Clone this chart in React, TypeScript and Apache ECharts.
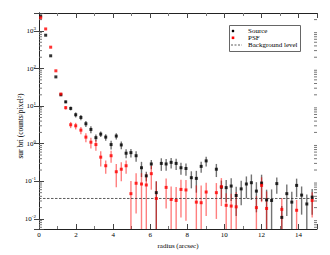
import React, { useEffect, useRef } from "react";
import * as echarts from "echarts";

const FONT = "Liberation Serif, 'Times New Roman', serif";

// Source (black) surface brightness profile
const srcRadius = [0.09, 0.36, 0.63, 0.91, 1.18, 1.44, 1.71, 1.98, 2.26, 2.53, 2.8, 3.07, 3.33, 3.6, 3.89, 4.17, 4.44, 4.7, 4.96, 5.24, 5.53, 5.79, 6.06, 6.33, 6.6, 6.86, 7.13, 7.4, 7.66, 7.93, 8.22, 8.49, 8.75, 9.02, 9.57, 9.84, 10.1, 10.37, 10.64, 10.91, 11.19, 11.46, 11.73, 12.01, 12.28, 12.55, 12.83, 13.1, 13.37, 13.64, 13.9, 14.17, 14.45, 14.74];
const srcValue = [2500, 770, 218, 60, 20, 13, 8.7, 5.9, 5.0, 3.4, 2.4, 1.45, 1.8, 1.5, 0.95, 1.6, 0.93, 0.56, 0.58, 0.48, 0.23, 0.14, 0.29, 0.05, 0.3, 0.29, 0.32, 0.3, 0.23, 0.22, 0.125, 0.12, 0.25, 0.35, 0.21, 0.07, 0.068, 0.075, 0.042, 0.063, 0.085, 0.092, 0.055, 0.09, 0.032, 0.031, 0.087, 0.011, 0.047, 0.028, 0.078, 0.043, 0.025, 0.038];
const srcError = [0, 0, 0, 0, 1, 1, 1, 0.9, 0.8, 0.6, 0.5, 0.3, 0.3, 0.3, 0.25, 0.3, 0.22, 0.15, 0.15, 0.15, 0.1, 0.04, 0.08, 0.05, 0.11, 0.1, 0.1, 0.1, 0.08, 0.08, 0.06, 0.07, 0.08, 0.1, 0.08, 0.035, 0.04, 0.045, 0.03, 0.04, 0.05, 0.06, 0.04, 0.06, 0.028, 0.03, 0.04, 0.011, 0.035, 0.025, 0.04, 0.03, 0.02, 0.025];

// PSF (red) profile
const psfRadius = [0.09, 0.36, 0.63, 0.91, 1.18, 1.44, 1.71, 1.98, 2.26, 2.53, 2.8, 3.07, 3.33, 3.6, 3.89, 4.17, 4.44, 4.7, 4.96, 5.24, 5.53, 5.79, 6.06, 6.33, 6.86, 7.13, 7.4, 7.66, 7.93, 8.49, 8.75, 9.02, 9.57, 9.84, 10.1, 10.37, 10.64, 11.73, 12.01, 12.28, 13.1, 13.9, 14.74];
const psfValue = [2250, 1130, 370, 87, 21, 9.1, 3.2, 3.0, 2.3, 1.5, 1.1, 0.95, 0.44, 0.26, 0.48, 0.18, 0.21, 0.26, 0.047, 0.089, 0.085, 0.08, 0.16, 0.035, 0.069, 0.033, 0.031, 0.061, 0.059, 0.028, 0.027, 0.052, 0.05, 0.072, 0.023, 0.022, 0.021, 0.02, 0.078, 0.019, 0.018, 0.017, 0.031];
const psfError = [0, 0, 0, 0, 1, 1, 0.6, 0.6, 0.5, 0.4, 0.35, 0.3, 0.19, 0.1, 0.17, 0.11, 0.11, 0.1, 0.055, 0.075, 0.08, 0.08, 0.1, 0.065, 0.05, 0.04, 0.04, 0.05, 0.05, 0.05, 0.05, 0.04, 0.04, 0.05, 0.025, 0.025, 0.03, 0.02, 0.05, 0.035, 0.018, 0.015, 0.02];

const backgroundLevel = 0.035;

const xMin = 0;
const xMax = 15;
const yMin = 0.0054;
const yMax = 3000;

const legendNames = ["Source", "PSF", "Background level"];
const xTitle = "radius (arcsec)";
const yTitle = "sur bri (counts/pixel²)";

// minor tick positions of the log axis (2..9 in each decade)
const yMinorTicks: number[] = [];
for (let d = -3; d <= 3; d++) {
  for (let k = 2; k <= 9; k++) {
    const v = k * Math.pow(10, d);
    if (v > yMin && v < yMax) yMinorTicks.push(v);
  }
}

const errRender = (color: string) => (params: any, api: any) => {
  const x = api.value(0);
  const v = api.value(1);
  const e = api.value(2);
  if (!e) return null;
  const cs = params.coordSys;
  const top = cs.y;
  const bottom = cs.y + cs.height;
  const pHi = api.coord([x, v + e]);
  let yLo = bottom;
  if (v - e > 0) yLo = Math.min(api.coord([x, v - e])[1], bottom);
  const yHi = Math.max(pHi[1], top);
  return {
    type: "line",
    shape: { x1: pHi[0], y1: yHi, x2: pHi[0], y2: yLo },
    style: { stroke: color, lineWidth: 1.4 },
  };
};

const labelFmt = (v: number) => {
  const l = Math.log10(v);
  const e = Math.round(l);
  if (Math.abs(l - e) > 0.01) return "";
  return `{b|10}{s|${e}}`;
};

export default function App() {
  const ref = useRef<HTMLDivElement>(null);
  useEffect(() => {
    if (!ref.current) return;
    const chart = echarts.init(ref.current, null, { renderer: "svg" });
    const axisLine = { show: true, lineStyle: { color: "#222", width: 1 } };
    const option: any = {
      animation: false,
      backgroundColor: "#fff",
      grid: { left: 39, right: 13, top: 13, bottom: 26 },
      xAxis: [
        {
          type: "value",
          min: xMin,
          max: xMax,
          interval: 2,
          position: "bottom",
          axisLine,
          axisTick: { show: true, inside: true, length: 5, lineStyle: { color: "#444" } },
          minorTick: { show: true, splitNumber: 2, length: 3, lineStyle: { color: "#777" } },
          splitLine: { show: false },
          axisLabel: { fontFamily: FONT, fontSize: 7, color: "#000", margin: 2, showMaxLabel: false },
          name: xTitle,
          nameLocation: "middle",
          nameGap: 13,
          nameTextStyle: { fontFamily: FONT, fontSize: 7, color: "#000" },
        },
        {
          type: "value",
          min: xMin,
          max: xMax,
          interval: 2,
          position: "top",
          axisLine,
          axisTick: { show: true, inside: true, length: 5, lineStyle: { color: "#444" } },
          minorTick: { show: true, splitNumber: 2, length: 3, lineStyle: { color: "#777" } },
          splitLine: { show: false },
          axisLabel: { show: false },
        },
      ],
      yAxis: [
        {
          type: "log",
          logBase: 10,
          min: yMin,
          max: yMax,
          position: "left",
          axisLine,
          axisTick: { show: true, inside: true, length: 5, lineStyle: { color: "#444" } },
          splitLine: { show: false },
          axisLabel: {
            formatter: labelFmt,
            margin: 3,
            color: "#000",
            rich: {
              b: { fontFamily: FONT, fontSize: 7, color: "#000", lineHeight: 10 },
              s: { fontFamily: FONT, fontSize: 5, color: "#000", lineHeight: 6, verticalAlign: "top" },
            },
          },
        },
        {
          type: "log",
          logBase: 10,
          min: yMin,
          max: yMax,
          position: "right",
          axisLine,
          axisTick: { show: true, inside: true, length: 5, lineStyle: { color: "#444" } },
          splitLine: { show: false },
          axisLabel: { show: false },
        },
      ],
      series: [
        {
          type: "custom",
          name: "yMinorTicks",
          silent: true,
          renderItem: (params: any, api: any) => {
            const y = api.coord([xMin, api.value(1)])[1];
            const cs = params.coordSys;
            return {
              type: "group",
              children: [
                { type: "line", shape: { x1: cs.x, y1: y, x2: cs.x + 3, y2: y }, style: { stroke: "#777", lineWidth: 1 } },
                { type: "line", shape: { x1: cs.x + cs.width - 3, y1: y, x2: cs.x + cs.width, y2: y }, style: { stroke: "#777", lineWidth: 1 } },
              ],
            };
          },
          data: yMinorTicks.map((v) => [xMin, v]),
          z: 1,
        },
        {
          type: "custom",
          name: "srcErr",
          silent: true,
          renderItem: errRender("rgba(0,0,0,0.55)"),
          encode: { x: 0, y: 1 },
          data: srcRadius.map((r, i) => [r, srcValue[i], srcError[i]]),
          z: 2,
        },
        {
          type: "custom",
          name: "psfErr",
          silent: true,
          renderItem: errRender("rgba(255,0,0,0.5)"),
          encode: { x: 0, y: 1 },
          data: psfRadius.map((r, i) => [r, psfValue[i], psfError[i]]),
          z: 3,
        },
        {
          type: "line",
          name: legendNames[2],
          data: [
            [xMin, backgroundLevel],
            [xMax, backgroundLevel],
          ],
          symbol: "none",
          lineStyle: { color: "#333", width: 0.8, type: [2.5, 1.5] },
          z: 4,
        },
        {
          type: "scatter",
          name: legendNames[0],
          symbol: "rect",
          symbolSize: 3,
          itemStyle: { color: "#000" },
          data: srcRadius.map((r, i) => [r, srcValue[i]]),
          z: 5,
        },
        {
          type: "scatter",
          name: legendNames[1],
          symbol: "rect",
          symbolSize: 3,
          itemStyle: { color: "#ff0000" },
          data: psfRadius.map((r, i) => [r, psfValue[i]]),
          z: 6,
        },
      ],
      graphic: [
        {
          type: "text",
          x: 20,
          y: 126,
          rotation: Math.PI / 2,
          style: { text: yTitle, fontFamily: FONT, fontSize: 7.5, fill: "#000", align: "center", verticalAlign: "middle" },
          z: 10,
        },
        {
          type: "group",
          x: 229,
          y: 25,
          z: 10,
          children: [
            { type: "rect", shape: { x: 0.5, y: 0.5, width: 71, height: 26 }, style: { fill: "#fff", stroke: "#666", lineWidth: 1 } },
            { type: "circle", shape: { cx: 4, cy: 6, r: 1.3 }, style: { fill: "#000" } },
            { type: "rect", shape: { x: 2.7, y: 11.5, width: 2.6, height: 2.6 }, style: { fill: "#ff0000" } },
            { type: "line", shape: { x1: 2, y1: 20, x2: 13, y2: 20 }, style: { stroke: "#333", lineWidth: 0.8, lineDash: [2, 1.5] } },
            { type: "text", x: 19, y: 6, style: { text: legendNames[0], fontFamily: FONT, fontSize: 7, fill: "#000", verticalAlign: "middle" } },
            { type: "text", x: 19, y: 12.8, style: { text: legendNames[1], fontFamily: FONT, fontSize: 7, fill: "#000", verticalAlign: "middle" } },
            { type: "text", x: 19, y: 20, style: { text: legendNames[2], fontFamily: FONT, fontSize: 7, fill: "#000", verticalAlign: "middle" } },
          ],
        },
      ],
    };
    chart.setOption(option);
    return () => chart.dispose();
  }, []);
  return (
    <div
      ref={ref}
      style={{ position: "absolute", left: 0, top: 0, width: 330, height: 255, background: "#fff" }}
    />
  );
}
